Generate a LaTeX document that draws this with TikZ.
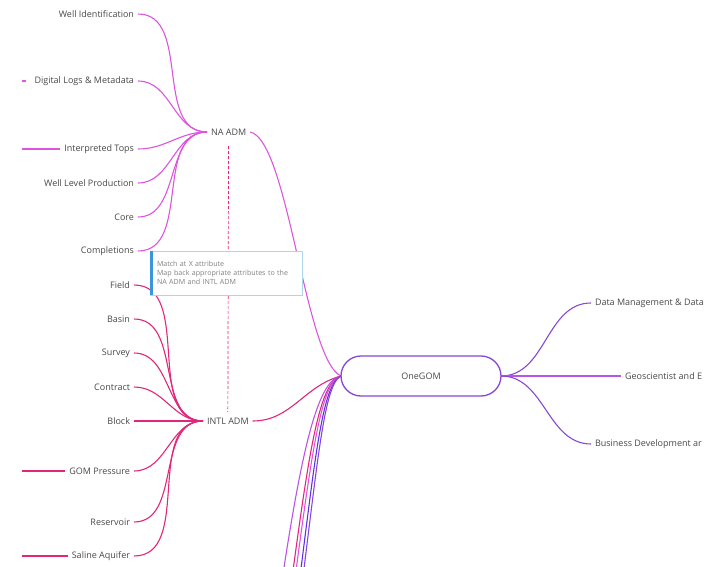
\documentclass[tikz,border=0pt]{standalone}
\usepackage{fontspec}
\setmainfont{Open Sans}
\usepackage{tikz}

\definecolor{naclr}{RGB}{222,84,222}
\definecolor{intlclr}{RGB}{226,38,122}
\definecolor{gomclr}{RGB}{134,72,212}
\definecolor{geoclr}{RGB}{184,84,232}
\definecolor{txtclr}{RGB}{72,72,72}
\definecolor{noteclr}{RGB}{172,214,236}
\definecolor{barclr}{RGB}{58,150,220}

\begin{document}
\begin{tikzpicture}[x=1pt, y=-1pt,
  every node/.style={font=\fontsize{9}{10}\selectfont, text=txtclr, inner sep=4pt, outer sep=0pt},
  leaf/.style={anchor=east},
  rleaf/.style={anchor=west},
  hub/.style={anchor=west},
  naline/.style={draw=naclr, line width=1.1pt},
  intlline/.style={draw=intlclr, line width=1.1pt},
  gomline/.style={draw=gomclr, line width=1.1pt},
  rootbox/.style={draw=gomclr, line width=1.3pt, rounded corners=20pt, minimum width=160pt, minimum height=40pt},
  notebox/.style={draw=noteclr, fill=white, line width=0.6pt, anchor=north west, minimum width=151pt, minimum height=44pt,
    text width=138pt, align=left, font=\fontsize{7.1}{9}\selectfont, text=gray, inner xsep=7pt}]
\useasboundingbox (0,0) rectangle (710,567);
\clip (0,0) rectangle (710,567);

% NA ADM side
\node[hub] (naadm) at (207,132) {NA ADM};
\node[leaf] (wellid) at (138,14) {Well Identification};
\node[leaf] (logs) at (138,81) {Digital Logs \& Metadata};
\node[leaf] (tops) at (138,149) {Interpreted Tops};
\node[leaf] (prod) at (138,183) {Well Level Production};
\node[leaf] (core) at (138,217) {Core};
\node[leaf] (compl) at (138,251) {Completions};

% INTL ADM side
\node[hub] (intladm) at (203,421) {INTL ADM};
\node[leaf] (field) at (134,285) {Field};
\node[leaf] (basin) at (134,319) {Basin};
\node[leaf] (survey) at (134,353) {Survey};
\node[leaf] (contract) at (134,387) {Contract};
\node[leaf] (block) at (134,421) {Block};
\node[leaf] (press) at (134,471) {GOM Pressure};
\node[leaf] (res) at (134,522) {Reservoir};
\node[leaf] (saline) at (134,556) {Saline Aquifer};

% root and right side
\node[rootbox] (onegom) at (421,376) {OneGOM};
\node[rleaf] (datamgmt) at (591,303) {Data Management \& Data};
\node[rleaf] (geo) at (621,376) {Geoscientist and E};
\node[rleaf] (busdev) at (591,444) {Business Development ar};

% free ends
\coordinate (logsx) at (22,81);
\coordinate (topsx) at (22,149);
\coordinate (pressx) at (22,471);
\coordinate (salinex) at (22,556);
\coordinate (bot1) at (279,600);
\coordinate (bot2) at (289,600);
\coordinate (bot3) at (292,600);
\coordinate (bot4) at (297,600);
\coordinate (bot5) at (300,600);

% link between the two models
\draw[intlclr, line width=0.7pt, dash pattern=on 3pt off 2pt, shorten <=7pt, shorten >=2pt] (naadm.south) -- (intladm.north);

% NA ADM branches
\foreach \n in {wellid,logs,tops,prod,core,compl}
  \draw[naline] (\n.east) to[out=0, in=180] (naadm.west);
\draw[naline] (logsx) -- ++(4,0);
\draw[naline] (topsx) -- (tops.west);
\draw[naline] (naadm.east) .. controls +(38,8) and +(-36,-16) .. (onegom.west);

% INTL ADM branches
\foreach \n in {field,basin,survey,contract,block,press,res,saline}
  \draw[intlline] (\n.east) to[out=0, in=180] (intladm.west);
\draw[intlline] (pressx) -- (press.west);
\draw[intlline] (salinex) -- (saline.west);
\draw[intlline] (intladm.east) to[out=0, in=195] (onegom.west);

% branches running off the bottom
\draw[draw=geoclr, line width=1.1pt] (onegom.west) .. controls (316,380) and (300,460) .. (bot1);
\draw[intlline] (onegom.west) .. controls (318,382) and (308,460) .. (bot2);
\draw[draw=naclr, line width=1.1pt] (onegom.west) .. controls (320,382) and (311,460) .. (bot3);
\draw[draw=gomclr!70!blue, line width=1.1pt] (onegom.west) .. controls (322,384) and (315,460) .. (bot4);
\draw[gomline] (onegom.west) .. controls (324,384) and (318,460) .. (bot5);

% right side
\draw[gomline] (onegom.east) to[out=0, in=180] (datamgmt.west);
\draw[draw=geoclr, line width=1.1pt] (onegom.east) -- (geo.west);
\draw[gomline] (onegom.east) to[out=0, in=180] (busdev.west);

% note
\node[notebox] (note) at (150,251) {Match at X attribute\\Map back appropriate attributes to the\\NA ADM and INTL ADM};
\draw[barclr, line width=2.6pt] ([xshift=1.3pt]note.north west) -- ([xshift=1.3pt]note.south west);
\end{tikzpicture}
\end{document}
